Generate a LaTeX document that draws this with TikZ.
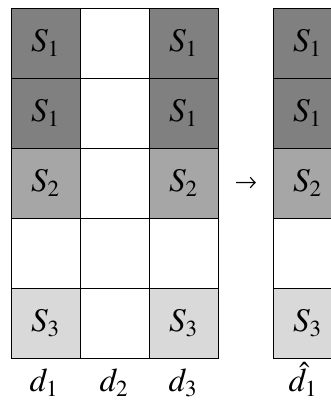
\documentclass[tikz,border=0pt]{standalone}
\usepackage{mathptmx}
\usepackage{graphicx}
\usepackage{tikz}
\usetikzlibrary{positioning}
\definecolor{grisfonce}{HTML}{808080}
\definecolor{grismoyen}{HTML}{A6A6A6}
\definecolor{grisclair}{HTML}{D9D9D9}
\newcommand{\gros}[1]{\scalebox{1.33}{$#1$}}
\tikzset{
  case/.style={draw=black,line width=0.8pt,minimum width=69pt,minimum height=70pt,
               inner sep=0pt,fill=white,font=\Huge},
  casun/.style={case,fill=grisfonce},
  casdeux/.style={case,fill=grismoyen},
  castrois/.style={case,fill=grisclair},
  etiq/.style={anchor=base,inner sep=0pt,font=\Huge},
}

\begin{document}
\begin{tikzpicture}[x=1pt,y=1pt]
  \useasboundingbox (0,0) rectangle (331,405);
  \clip (0,0) rectangle (331,405);
  % colonne d1
  \node[casun] (a1) at (45.5,362) {\gros{S_1}};
  \node[casun] (a2) at (45.5,292) {\gros{S_1}};
  \node[casdeux] (a3) at (45.5,222) {\gros{S_2}};
  \node[case] (a4) at (45.5,152) {};
  \node[castrois] (a5) at (45.5,82) {\gros{S_3}};
  % colonne d2
  \node[case] (b1) at (114.5,362) {};
  \node[case] (b2) at (114.5,292) {};
  \node[case] (b3) at (114.5,222) {};
  \node[case] (b4) at (114.5,152) {};
  \node[case] (b5) at (114.5,82) {};
  % colonne d3
  \node[casun] (c1) at (183.5,362) {\gros{S_1}};
  \node[casun] (c2) at (183.5,292) {\gros{S_1}};
  \node[casdeux] (c3) at (183.5,222) {\gros{S_2}};
  \node[case] (c4) at (183.5,152) {};
  \node[castrois] (c5) at (183.5,82) {\gros{S_3}};
  % resultat
  \node[casun] (r1) at (307.5,362) {\gros{S_1}};
  \node[casun] (r2) at (307.5,292) {\gros{S_1}};
  \node[casdeux] (r3) at (307.5,222) {\gros{S_2}};
  \node[case] (r4) at (307.5,152) {};
  \node[castrois] (r5) at (307.5,82) {\gros{S_3}};
  \node[inner sep=0pt,font=\fontsize{22}{24}\fontencoding{U}\fontfamily{psy}\selectfont] (fl) at (246,222) {\char174};
  % etiquettes
  \node[etiq] (d1) at (44,13) {\gros{d_1}};
  \node[etiq] (d2) at (114,13) {\gros{d_2}};
  \node[etiq] (d3) at (183,13) {\gros{d_3}};
  \node[etiq] (dh) at (303,13) {\gros{\hat{d}_1}};
\end{tikzpicture}
\end{document}
